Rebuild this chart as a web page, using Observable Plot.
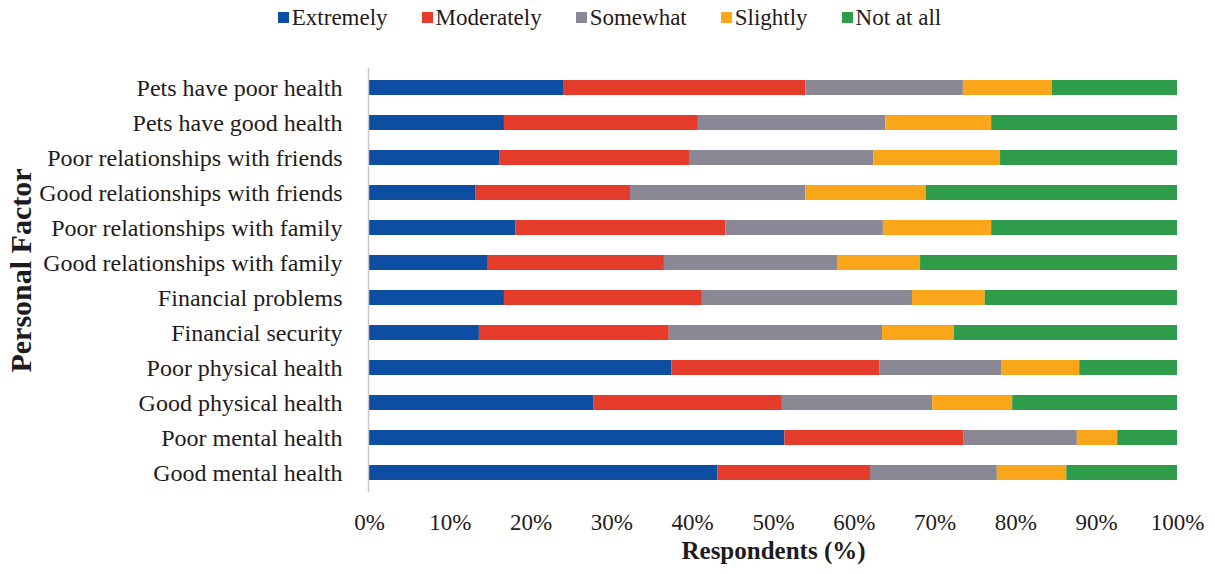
<!DOCTYPE html>
<html>
<head>
<meta charset="utf-8">
<script src="https://cdn.jsdelivr.net/npm/d3@7"></script>
<script src="https://cdn.jsdelivr.net/npm/@observablehq/plot@0.6"></script>
<style>
  html, body { margin: 0; padding: 0; background: #fff; }
  body { width: 1215px; font-family: "Liberation Serif", "Times New Roman", serif; color: #1f1b1c; }
  #legend { height: 38px; display: flex; justify-content: center; align-items: center; font-size: 23px; padding-left: 4px; padding-bottom: 3px; box-sizing: border-box; }
  #legend .item { display: flex; align-items: center; margin: 0 17px; }
  #legend .sw { width: 11px; height: 11px; margin-right: 3px; display: inline-block; }
</style>
</head>
<body>
<div id="legend"></div>
<div id="chart"></div>
<script>
const factors = [
  "Pets have poor health",
  "Pets have good health",
  "Poor relationships with friends",
  "Good relationships with friends",
  "Poor relationships with family",
  "Good relationships with family",
  "Financial problems",
  "Financial security",
  "Poor physical health",
  "Good physical health",
  "Poor mental health",
  "Good mental health"
];
const levels = ["Extremely", "Moderately", "Somewhat", "Slightly", "Not at all"];
const colors = ["#0d4ea2", "#e53b2b", "#8b8896", "#f9a61b", "#2f9c4b"];

const extremely  = [24.1, 16.7, 16.1, 13.2, 18.1, 14.7, 16.7, 13.6, 37.4, 27.8, 51.4, 43.1];
const moderately = [29.9, 24.0, 23.5, 19.1, 26.0, 21.8, 24.5, 23.5, 25.8, 23.3, 22.2, 18.9];
const somewhat   = [19.5, 23.2, 22.8, 21.7, 19.5, 21.5, 26.0, 26.4, 15.1, 18.6, 14.0, 15.7];
const slightly   = [11.0, 13.1, 15.7, 14.9, 13.4, 10.2,  9.0,  8.9,  9.6,  9.9,  5.0,  8.6];
const notAtAll   = [15.5, 23.0, 21.9, 31.1, 23.0, 31.8, 23.8, 27.6, 12.1, 20.4,  7.4, 13.7];

const xTicks = [0, 10, 20, 30, 40, 50, 60, 70, 80, 90, 100];

const seriesValues = [extremely, moderately, somewhat, slightly, notAtAll];
const data = [];
factors.forEach((f, i) => {
  levels.forEach((lv, j) => {
    data.push({factor: f, level: lv, value: seriesValues[j][i]});
  });
});

// legend
const legend = document.getElementById("legend");
levels.forEach((lv, j) => {
  const item = document.createElement("span");
  item.className = "item";
  const sw = document.createElement("span");
  sw.className = "sw";
  sw.style.background = colors[j];
  const t = document.createElement("span");
  t.textContent = lv;
  item.appendChild(sw);
  item.appendChild(t);
  legend.appendChild(item);
});

const chart = Plot.plot({
  width: 1215,
  height: 536,
  marginLeft: 369,
  marginRight: 38,
  marginTop: 30,
  marginBottom: 82,
  style: {fontFamily: "Liberation Serif, Times New Roman, serif", color: "#1f1b1c", background: "#fff"},
  x: {domain: [0, 100], ticks: xTicks, tickFormat: d => d + "%", label: null},
  y: {domain: factors, paddingInner: 0.575, paddingOuter: 0.2875, label: null},
  color: {domain: levels, range: colors},
  marks: [
    Plot.barX(data, Plot.stackX({
      x: "value", y: "factor", fill: "level", order: levels
    })),
    Plot.ruleX([0], {stroke: "#c8c8c8", strokeWidth: 1.5, dx: -1}),
    Plot.axisX({ticks: xTicks, tickFormat: d => d + "%", tickSize: 0, tickPadding: 21, fontSize: 23, label: null}),
    Plot.axisY({tickSize: 0, tickPadding: 27, fontSize: 24, label: null}),
    Plot.text(["Respondents (%)"], {frameAnchor: "bottom", dy: 66, fontSize: 25, fontWeight: "bold"}),
    Plot.text(["Personal Factor"], {frameAnchor: "left", textAnchor: "middle", dx: -348, dy: -10, rotate: -90, fontSize: 30, fontWeight: "bold"})
  ]
});
document.getElementById("chart").appendChild(chart);
</script>
</body>
</html>
